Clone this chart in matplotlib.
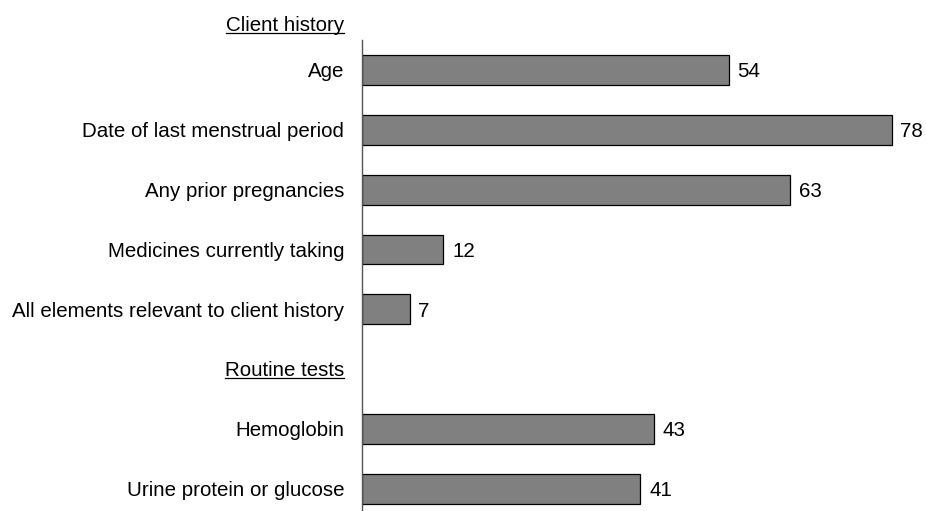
import matplotlib
matplotlib.use("Agg")
import matplotlib.pyplot as plt
from matplotlib.lines import Line2D

plt.rcParams['font.family'] = ['Liberation Sans', 'DejaVu Sans']

categories = ["Age", "Date of last menstrual period", "Any prior pregnancies",
              "Medicines currently taking", "All elements relevant to client history",
              "Routine tests", "Hemoglobin", "Urine protein or glucose"]
values = [54, 78, 63, 12, 7, None, 43, 41]
headers = {"Client history": -0.78, "Routine tests": 5}

W, H = 926, 511
fig = plt.figure(figsize=(W / 100, H / 100), dpi=100)
ax_left, ax_top = 362, 40
scale = 6.79
ax = fig.add_axes([ax_left / W, 0, (W - ax_left) / W, (H - ax_top) / H])
ax.set_xlim(0, (W - ax_left) / scale)
ax.set_ylim(7.37, -0.5)

fs = 14.8
dy = 0.03
for i, (cat, v) in enumerate(zip(categories, values)):
    if v is None:
        continue
    ax.barh(i, v, height=0.5, color='#808080', edgecolor='black', linewidth=0.9)
    ax.text(v + 1.3, i + dy, str(v), va='center', ha='left', fontsize=fs)
    ax.text(-2.6, i + dy, cat, va='center', ha='right', fontsize=fs, clip_on=False)

header_texts = []
for h, y in headers.items():
    t = ax.text(-2.6, y + dy, h, va='center', ha='right', fontsize=fs, clip_on=False)
    header_texts.append(t)

fig.canvas.draw()
renderer = fig.canvas.get_renderer()
for t in header_texts:
    bb = t.get_window_extent(renderer)
    yline = bb.y0 + 2
    fig.add_artist(Line2D([bb.x0 / W, bb.x1 / W], [yline / H, yline / H],
                          color='black', linewidth=0.9, transform=fig.transFigure))

for s in ['top', 'right', 'bottom']:
    ax.spines[s].set_visible(False)
ax.spines['left'].set_color('#555555')
ax.spines['left'].set_linewidth(1.0)
ax.set_xticks([])
ax.set_yticks([])

fig.savefig("out.png", dpi=100)
